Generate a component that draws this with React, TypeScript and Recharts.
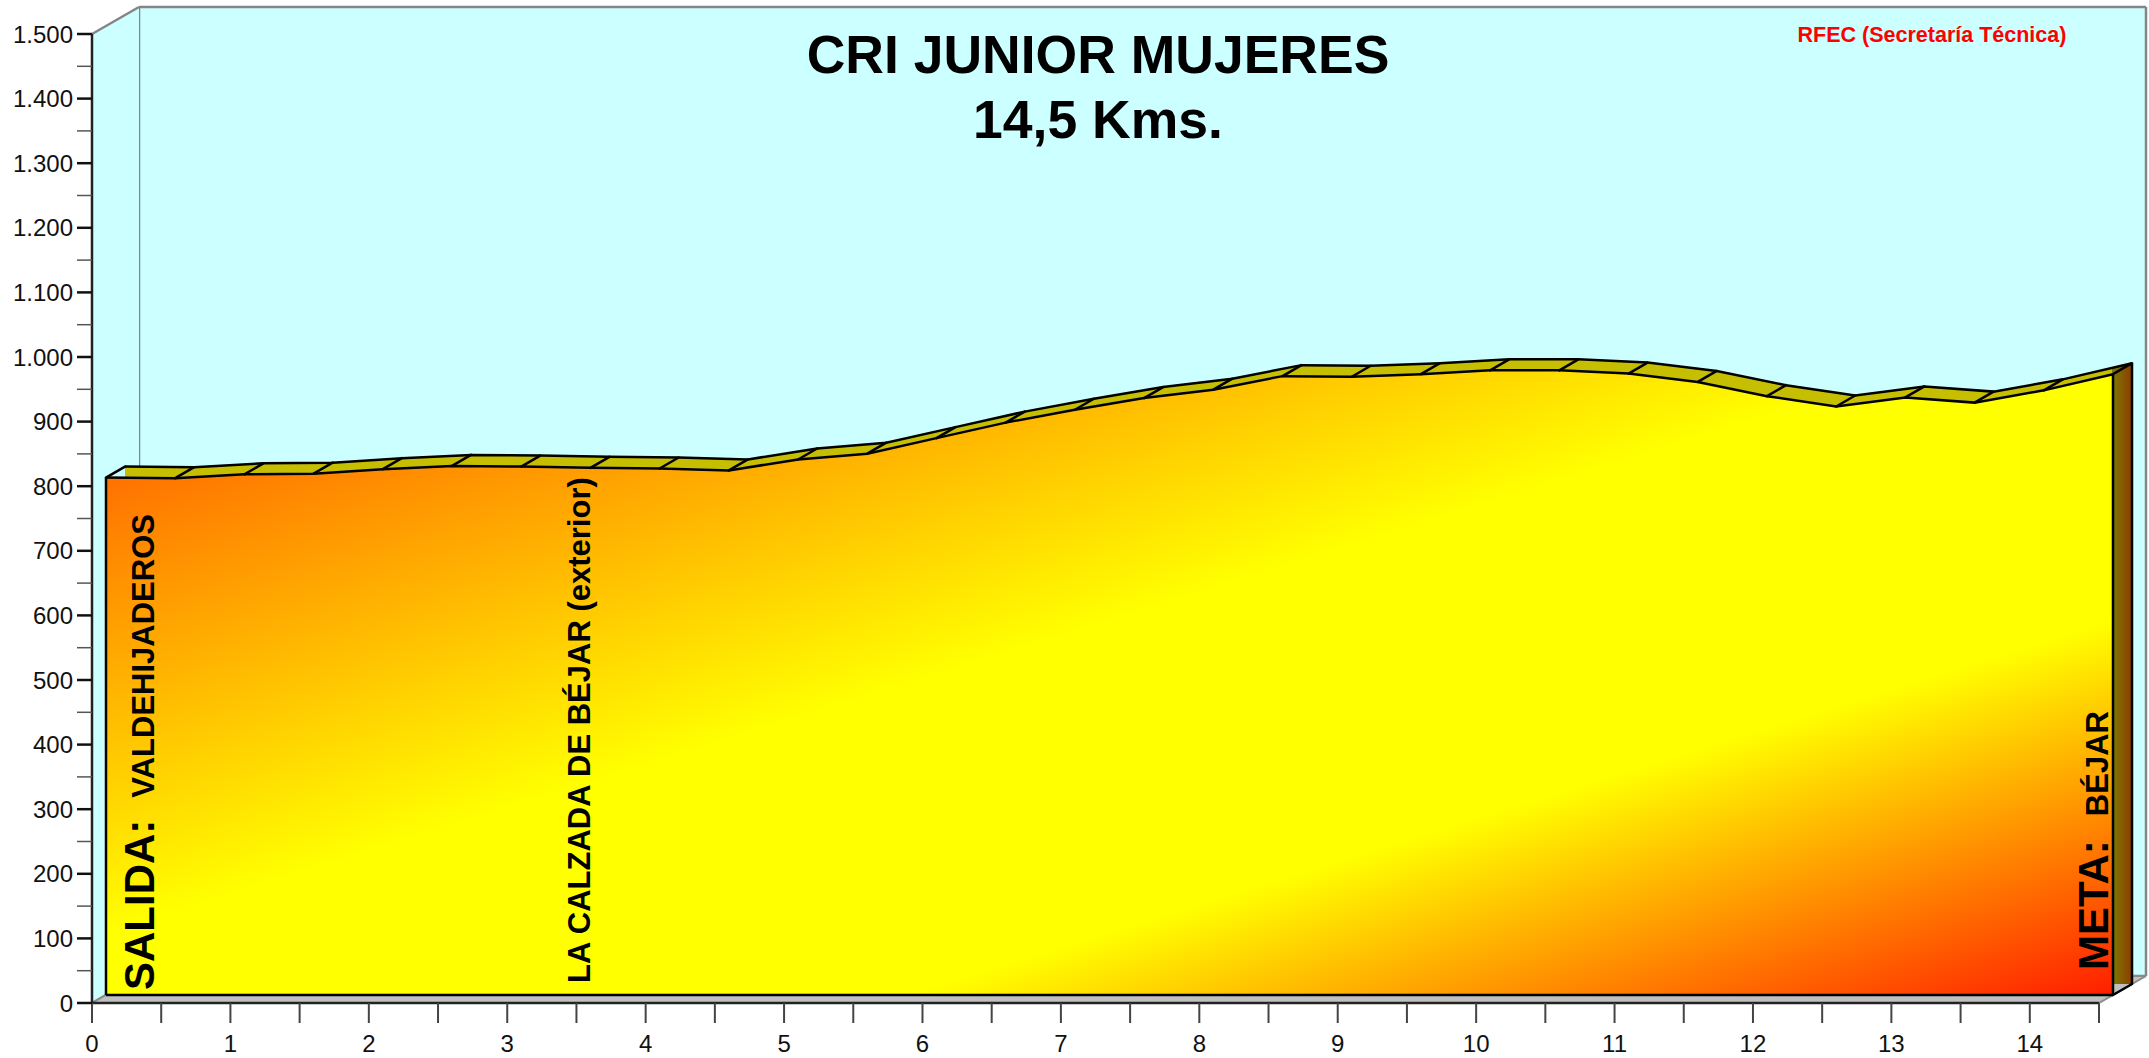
import React from "react";
import {
  ComposedChart,
  Area,
  Scatter,
  XAxis,
  YAxis,
  ReferenceLine,
} from "recharts";

// profile, every 0.5 km
const KM = [0, 0.5, 1, 1.5, 2, 2.5, 3, 3.5, 4, 4.5, 5, 5.5, 6, 6.5, 7, 7.5, 8, 8.5, 9, 9.5, 10, 10.5, 11, 11.5, 12, 12.5, 13, 13.5, 14, 14.5];
const ELEV = [801, 800, 806, 807, 814, 819, 818, 816, 815, 812, 829, 838, 862, 886, 906, 924, 937, 958, 957, 961, 967, 967, 962, 949, 927, 911, 925, 917, 936, 961];

const KM_TICKS = KM;
const ELEV_TICKS = [0, 50, 100, 150, 200, 250, 300, 350, 400, 450, 500, 550, 600, 650, 700, 750, 800, 850, 900, 950, 1000, 1050, 1100, 1150, 1200, 1250, 1300, 1350, 1400, 1450, 1500];

const PLACE_KM = [0, 3.5, 14.5];
const PLACE_HEAD = ["SALIDA:", "", "META:"];
const PLACE_NAME = ["VALDEHIJADEROS", "LA CALZADA DE BÉJAR (exterior)", "BÉJAR"];

const TITLE = "CRI JUNIOR MUJERES";
const SUBTITLE = "14,5 Kms.";
const CREDIT = "RFEC (Secretaría Técnica)";

// layout
const W = 2149;
const H = 1058;
const X_MAX = 14.5;
const Y_MAX = 1500;
const ORIGIN = { x: 92, y: 1003 };
const AXIS_W = 2007;
const AXIS_H = 969;
const WALL = { dx: 47, dy: 27 };
const FRONT = { dx: 14, dy: 8 };
const BACK = { dx: 33, dy: 19 };
const KX = AXIS_W / X_MAX;
const KY = AXIS_H / Y_MAX;
const X_DOM = X_MAX + WALL.dx / KX;
const Y_DOM = Y_MAX + WALL.dy / KY;
const xDom = (o: { dx: number }) => [-o.dx / KX, X_DOM - o.dx / KX + 1e-6] as [number, number];
const yDom = (o: { dy: number }) => [-o.dy / KY, Y_DOM - o.dy / KY + 1e-6] as [number, number];

const FONT = "'Liberation Sans', Arial, Helvetica, sans-serif";
const CYAN = "#CCFFFF";
const WALL_LINE = "#858585";

const PLACE_STYLE = [
  { dx: 48, dy: -5, head: 42, name: 31, gap: 22 },
  { dx: 0, dy: -12, head: 42, name: 31, gap: 0 },
  { dx: -5, dy: -25, head: 42, name: 31, gap: 24 },
];

const PROFILE = KM.map((km, i) => ({ km, elev: ELEV[i] }));
const CORNER = [{ km: X_MAX, elev: 0 }];
const PLACES = PLACE_KM.map((km, i) => ({ km, elev: 0, i }));

const DX_KM = WALL.dx / KX;
const DY_M = WALL.dy / KY;
const BACK_WALL = [
  { km: 0, r: [0, Y_MAX] },
  { km: X_MAX, r: [0, Y_MAX] },
];
const LEFT_WALL = [
  { km: 0, r: [0, Y_MAX] },
  { km: DX_KM, r: [DY_M, Y_DOM] },
];
const FLOOR = [
  { km: 0, r: [0, 0] },
  { km: DX_KM, r: [0, DY_M] },
  { km: X_MAX, r: [0, DY_M] },
  { km: X_DOM, r: [DY_M, DY_M] },
];

const fmt = (v: number) =>
  v >= 1000 ? `${Math.floor(v / 1000)}.${String(v % 1000).padStart(3, "0")}` : String(v);

function YTick({ y, payload }: any) {
  const v = payload.value as number;
  const major = v % 100 === 0;
  return (
    <g>
      <line
        x1={ORIGIN.x - 15}
        x2={ORIGIN.x}
        y1={y}
        y2={y}
        stroke={major ? "#111" : "#555"}
        strokeWidth={major ? 2.5 : 1.5}
      />
      {major && (
        <text x={ORIGIN.x - 19} y={y + 8.5} textAnchor="end" fontSize={24} fontFamily={FONT} fill="#111">
          {fmt(v)}
        </text>
      )}
    </g>
  );
}

function XTick({ x, payload }: any) {
  const v = payload.value as number;
  return (
    <g>
      <line x1={x} x2={x} y1={ORIGIN.y} y2={ORIGIN.y + 20} stroke="#444" strokeWidth={2} />
      {Number.isInteger(v) && (
        <text x={x} y={ORIGIN.y + 49} textAnchor="middle" fontSize={24} fontFamily={FONT} fill="#111">
          {v}
        </text>
      )}
    </g>
  );
}

function Connector({ cx, cy }: any) {
  if (cx == null || cy == null) return null;
  return (
    <line
      x1={cx}
      y1={cy}
      x2={cx + BACK.dx - FRONT.dx}
      y2={cy - (BACK.dy - FRONT.dy)}
      stroke="#000"
      strokeWidth={2.5}
      strokeLinecap="round"
    />
  );
}

function PlaceLabel({ cx, cy, payload }: any) {
  if (cx == null || cy == null) return null;
  const i = payload.i as number;
  const s = PLACE_STYLE[i];
  const head = PLACE_HEAD[i];
  return (
    <text
      transform={`translate(${cx + s.dx},${cy + s.dy}) rotate(-90)`}
      fontFamily={FONT}
      fontWeight="bold"
      fill="#000"
    >
      {head && <tspan fontSize={s.head}>{head}</tspan>}
      <tspan fontSize={s.name} dx={head ? s.gap : 0}>
        {PLACE_NAME[i]}
      </tspan>
    </text>
  );
}

const areaBase = {
  type: "linear" as const,
  fillOpacity: 1,
  dot: false,
  activeDot: false,
  isAnimationActive: false,
};

export default function App() {
  const last = ELEV[ELEV.length - 1];
  return (
    <div style={{ position: "absolute", left: 0, top: 0, width: W, height: H, background: "#fff" }}>
      <ComposedChart
        width={W}
        height={H}
        data={PROFILE}
        margin={{ top: ORIGIN.y - AXIS_H - WALL.dy, right: W - ORIGIN.x - AXIS_W - WALL.dx, bottom: 0, left: 0 }}
      >
        <defs>
          <linearGradient id="faceGrad" x1="0" y1="0" x2="1" y2="1">
            <stop offset="0" stopColor="#FF5000" />
            <stop offset="0.45" stopColor="#FFFF00" />
            <stop offset="0.7" stopColor="#FFFF00" />
            <stop offset="1" stopColor="#FF1E00" />
          </linearGradient>
          <linearGradient id="topGrad" x1="0" y1="0" x2="1" y2="0">
            <stop offset="0" stopColor="#C6BE00" />
            <stop offset="0.9899" stopColor="#C6BE00" />
            <stop offset="0.99" stopColor="#7C7C00" />
            <stop offset="1" stopColor="#8E3C00" />
          </linearGradient>
        </defs>

        <XAxis
          xAxisId="main"
          dataKey="km"
          type="number"
          domain={[0, X_DOM]}
          ticks={KM_TICKS}
          interval={0}
          height={H - ORIGIN.y}
          axisLine={false}
          tickLine={false}
          tick={<XTick />}
        />
        <YAxis
          yAxisId="main"
          type="number"
          domain={[0, Y_DOM]}
          ticks={ELEV_TICKS}
          interval={0}
          width={ORIGIN.x}
          axisLine={false}
          tickLine={false}
          tick={<YTick />}
        />
        <XAxis xAxisId="wall" dataKey="km" type="number" domain={xDom(WALL)} hide />
        <YAxis yAxisId="wall" type="number" domain={yDom(WALL)} hide />
        <XAxis xAxisId="front" dataKey="km" type="number" domain={xDom(FRONT)} hide />
        <YAxis yAxisId="front" dataKey="elev" type="number" domain={yDom(FRONT)} hide />
        <XAxis xAxisId="back" dataKey="km" type="number" domain={xDom(BACK)} hide />
        <YAxis yAxisId="back" dataKey="elev" type="number" domain={yDom(BACK)} hide />

        {/* back wall */}
        <Area
          {...areaBase}
          data={BACK_WALL}
          xAxisId="wall"
          yAxisId="wall"
          dataKey="r"
          fill={CYAN}
          stroke={WALL_LINE}
          strokeWidth={2.5}
          zIndex={10}
        />
        <ReferenceLine xAxisId="wall" yAxisId="wall" segment={[{ x: 0, y: 0 }, { x: 0, y: Y_MAX }]} stroke={WALL_LINE} strokeWidth={2.5} ifOverflow="visible" zIndex={11} />
        <ReferenceLine xAxisId="wall" yAxisId="wall" segment={[{ x: X_MAX, y: 0 }, { x: X_MAX, y: Y_MAX }]} stroke={WALL_LINE} strokeWidth={2.5} ifOverflow="visible" zIndex={11} />

        {/* side wall and floor */}
        <Area
          {...areaBase}
          data={LEFT_WALL}
          xAxisId="main"
          yAxisId="main"
          dataKey="r"
          fill={CYAN}
          stroke={WALL_LINE}
          strokeWidth={2.5}
          zIndex={20}
        />
        <Area
          {...areaBase}
          data={FLOOR}
          xAxisId="main"
          yAxisId="main"
          dataKey="r"
          fill="#C0C0C0"
          stroke="#8A8A8A"
          strokeWidth={2}
          zIndex={20}
        />

        {/* profile: back edge then front face */}
        <Area
          {...areaBase}
          xAxisId="back"
          yAxisId="back"
          dataKey="elev"
          fill="url(#topGrad)"
          stroke="#000"
          strokeWidth={2.5}
          zIndex={30}
        />
        <Area
          {...areaBase}
          xAxisId="front"
          yAxisId="front"
          dataKey="elev"
          fill="url(#faceGrad)"
          stroke="#000"
          strokeWidth={2.5}
          zIndex={40}
        />

        <ReferenceLine xAxisId="front" yAxisId="front" segment={[{ x: 0, y: 0 }, { x: 0, y: ELEV[0] }]} stroke="#000" strokeWidth={2.5} ifOverflow="visible" zIndex={50} />
        <ReferenceLine xAxisId="front" yAxisId="front" segment={[{ x: 0, y: 0 }, { x: X_MAX, y: 0 }]} stroke="#000" strokeWidth={2.5} ifOverflow="visible" zIndex={50} />
        <ReferenceLine xAxisId="front" yAxisId="front" segment={[{ x: X_MAX, y: 0 }, { x: X_MAX, y: last }]} stroke="#000" strokeWidth={2.5} ifOverflow="visible" zIndex={50} />
        <ReferenceLine xAxisId="back" yAxisId="back" segment={[{ x: X_MAX, y: 0 }, { x: X_MAX, y: last }]} stroke="#000" strokeWidth={2.5} ifOverflow="visible" zIndex={50} />

        <Scatter xAxisId="front" yAxisId="front" dataKey="elev" shape={<Connector />} isAnimationActive={false} zIndex={55} />
        <Scatter data={CORNER} xAxisId="front" yAxisId="front" dataKey="elev" shape={<Connector />} isAnimationActive={false} zIndex={55} />

        {/* axis lines */}
        <ReferenceLine xAxisId="main" yAxisId="main" segment={[{ x: 0, y: 0 }, { x: 0, y: Y_MAX }]} stroke="#222" strokeWidth={2.5} ifOverflow="visible" zIndex={60} />
        <ReferenceLine xAxisId="main" yAxisId="main" segment={[{ x: 0, y: 0 }, { x: X_MAX, y: 0 }]} stroke="#222" strokeWidth={2.5} ifOverflow="visible" zIndex={60} />

        <Scatter data={PLACES} xAxisId="front" yAxisId="front" dataKey="elev" shape={<PlaceLabel />} isAnimationActive={false} zIndex={70} />
      </ComposedChart>

      <svg
        width={W}
        height={H}
        style={{ position: "absolute", left: 0, top: 0, pointerEvents: "none" }}
      >
        <g fontFamily={FONT} fontWeight="bold" textAnchor="middle">
          <text x={1098} y={73} fontSize={53.5} fill="#000">
            {TITLE}
          </text>
          <text x={1098} y={138} fontSize={53.5} fill="#000">
            {SUBTITLE}
          </text>
          <text x={1932} y={42} fontSize={21.5} fill="#FF0000">
            {CREDIT}
          </text>
        </g>
      </svg>
    </div>
  );
}
